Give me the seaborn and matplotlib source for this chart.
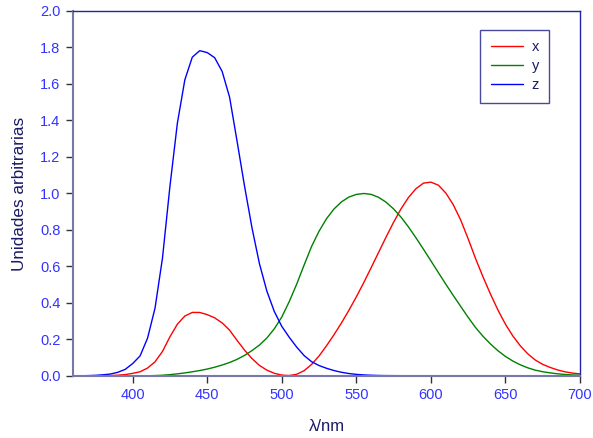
import pandas as pd
import matplotlib
matplotlib.use("Agg")
import matplotlib.pyplot as plt
import seaborn as sns

# CIE 1931 colour matching functions, 5 nm steps
wavelength = list(range(360, 705, 5))
x_bar = [0.000130, 0.000232, 0.000415, 0.000742, 0.001368, 0.002236, 0.004243, 0.007650,
         0.014310, 0.023190, 0.043510, 0.077630, 0.134380, 0.214770, 0.283900, 0.328500,
         0.348280, 0.348060, 0.336200, 0.318700, 0.290800, 0.251100, 0.195360, 0.142100,
         0.095640, 0.057950, 0.032010, 0.014700, 0.004900, 0.002400, 0.009300, 0.029100,
         0.063270, 0.109600, 0.165500, 0.225750, 0.290400, 0.359700, 0.433450, 0.512050,
         0.594500, 0.678400, 0.762100, 0.842500, 0.916300, 0.978600, 1.026300, 1.056700,
         1.062200, 1.045600, 1.002600, 0.938400, 0.854450, 0.751400, 0.642400, 0.541900,
         0.447900, 0.360800, 0.283500, 0.218700, 0.164900, 0.121200, 0.087400, 0.063600,
         0.046770, 0.032900, 0.022700, 0.015840, 0.011359]
y_bar = [0.000004, 0.000007, 0.000012, 0.000022, 0.000039, 0.000064, 0.000120, 0.000217,
         0.000396, 0.000640, 0.001210, 0.002180, 0.004000, 0.007300, 0.011600, 0.016840,
         0.023000, 0.029800, 0.038000, 0.048000, 0.060000, 0.073900, 0.090980, 0.112600,
         0.139020, 0.169300, 0.208020, 0.258600, 0.323000, 0.407300, 0.503000, 0.608200,
         0.710000, 0.793200, 0.862000, 0.914850, 0.954000, 0.980300, 0.994950, 1.000000,
         0.995000, 0.978600, 0.952000, 0.915400, 0.870000, 0.816300, 0.757000, 0.694900,
         0.631000, 0.566800, 0.503000, 0.441200, 0.381000, 0.321000, 0.265000, 0.217000,
         0.175000, 0.138200, 0.107000, 0.081600, 0.061000, 0.044580, 0.032000, 0.023200,
         0.017000, 0.011920, 0.008210, 0.005723, 0.004102]
z_bar = [0.000606, 0.001086, 0.001946, 0.003486, 0.006450, 0.010550, 0.020050, 0.036210,
         0.067850, 0.110200, 0.207400, 0.371300, 0.645600, 1.039050, 1.385600, 1.622960,
         1.747060, 1.782600, 1.772110, 1.744100, 1.669200, 1.528100, 1.287640, 1.041900,
         0.812950, 0.616200, 0.465180, 0.353300, 0.272000, 0.212300, 0.158200, 0.111700,
         0.078250, 0.057250, 0.042160, 0.029840, 0.020300, 0.013400, 0.008750, 0.005750,
         0.003900, 0.002750, 0.002100, 0.001800, 0.001650, 0.001400, 0.001100, 0.001000,
         0.000800, 0.000600, 0.000340, 0.000240, 0.000190, 0.000100, 0.000050, 0.000030,
         0.000020, 0.000010, 0.0, 0.0, 0.0, 0.0, 0.0, 0.0, 0.0, 0.0, 0.0, 0.0, 0.0]

series = ["x", "y", "z"]
colors = ["#ff0000", "#008000", "#0000ff"]

df = pd.DataFrame({"wl": wavelength, "x": x_bar, "y": y_bar, "z": z_bar})
df = df.melt(id_vars="wl", var_name="curve", value_name="val")

sns.set_style("white")
plt.rcParams["font.family"] = ["Liberation Sans", "DejaVu Sans"]

fig = plt.figure(figsize=(5.93, 4.38), dpi=100)
ax = fig.add_axes([0.1231, 0.1416, 0.8550, 0.8333])

sns.lineplot(data=df, x="wl", y="val", hue="curve", hue_order=series,
             palette=colors, linewidth=1.0, ax=ax)

ax.set_xlim(360, 700)
ax.set_ylim(0, 2.0)
ax.set_xticks([400, 450, 500, 550, 600, 650, 700])
ax.set_yticks([0.0, 0.2, 0.4, 0.6, 0.8, 1.0, 1.2, 1.4, 1.6, 1.8, 2.0])
ax.set_yticklabels([f"{v:.1f}" for v in ax.get_yticks()])

ax.tick_params(axis="both", direction="out", length=5, width=1, pad=4,
               color="#333333", labelcolor="#3333ff", labelsize=10.5,
               bottom=True, left=True)
ax.set_xlabel("λ/nm", fontsize=12, color="#1a1a66", labelpad=12)
ax.set_ylabel("Unidades arbitrarias", fontsize=12.3, color="#1a1a66", labelpad=9)

for s in ["left", "bottom"]:
    ax.spines[s].set_color("#7777aa")
    ax.spines[s].set_linewidth(1.5)
for s in ["top", "right"]:
    ax.spines[s].set_color("#2222aa")
    ax.spines[s].set_linewidth(1.0)

leg = ax.legend(loc="upper right", bbox_to_anchor=(0.939, 0.948), frameon=True,
                fancybox=False, fontsize=10.5, handlelength=2.2, labelspacing=0.35,
                borderpad=0.7, handletextpad=0.6, borderaxespad=0)
leg.get_frame().set_edgecolor("#1a1a88")
leg.get_frame().set_linewidth(1.0)
for t in leg.get_texts():
    t.set_color("#1a1a66")

fig.savefig("out.png", dpi=100)
